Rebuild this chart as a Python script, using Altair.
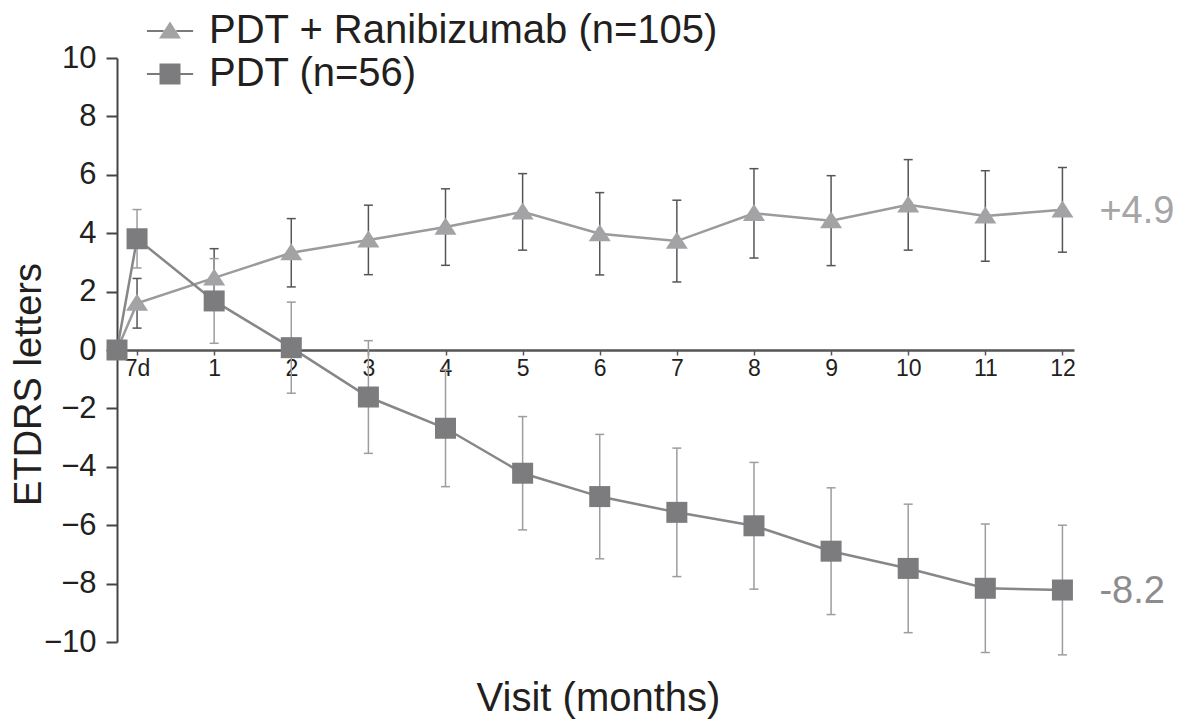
import altair as alt
import pandas as pd

FONT = "Liberation Sans"
TEXT = "#231f20"

# ---- data ----
series_names = ["PDT + Ranibizumab (n=105)", "PDT (n=56)"]
visits = [-0.26, 0, 1, 2, 3, 4, 5, 6, 7, 8, 9, 10, 11, 12]
tick_values = [0, 1, 2, 3, 4, 5, 6, 7, 8, 9, 10, 11, 12]
tick_labels = ["7d", "1", "2", "3", "4", "5", "6", "7", "8", "9", "10", "11", "12"]
y_ticks = [-10, -8, -6, -4, -2, 0, 2, 4, 6, 8, 10]

combo_mean = [0, 1.60, 2.47, 3.33, 3.77, 4.21, 4.73, 3.98, 3.73, 4.68, 4.43, 4.97, 4.59, 4.80]
combo_err = [0, 0.85, 1.00, 1.17, 1.19, 1.31, 1.31, 1.41, 1.40, 1.53, 1.54, 1.55, 1.55, 1.45]
pdt_mean = [0, 3.81, 1.68, 0.08, -1.61, -2.68, -4.22, -5.02, -5.56, -6.02, -6.89, -7.48, -8.16, -8.22]
pdt_err = [0, 1.00, 1.45, 1.56, 1.93, 2.00, 1.94, 2.13, 2.20, 2.17, 2.17, 2.20, 2.20, 2.22]

end_labels = ["+4.9", "-8.2"]
end_values = [4.80, -8.22]
end_visit = [12, 12]

# marker legend keys differ from the line legend keys only by a trailing space,
# so that Vega-Lite keeps the two legends apart (they are overlaid)
marker_keys = [s + " " for s in series_names]

rows = []
for name, key, means, errs in [(series_names[0], marker_keys[0], combo_mean, combo_err),
                               (series_names[1], marker_keys[1], pdt_mean, pdt_err)]:
    for v, m, e in zip(visits, means, errs):
        rows.append({"visit": v, "mean": m, "err": e, "lo": m - e, "hi": m + e,
                     "series": name, "grp": key})
df = pd.DataFrame(rows)
ends = pd.DataFrame({"visit": end_visit, "mean": end_values, "label": end_labels})

label_expr = "[" + ",".join("'%s'" % t for t in tick_labels) + "][datum.value]"

W, H = 957, 584

x_enc = alt.X(
    "visit:Q",
    scale=alt.Scale(domain=[-0.26, 12.15], nice=False, zero=False),
    axis=alt.Axis(
        values=tick_values, labelExpr=label_expr, offset=-H / 2,
        domainColor="#555555", domainWidth=2.5, tickColor="#555555", tickWidth=1.5,
        tickSize=5, labelFontSize=23, labelFont=FONT, labelColor=TEXT, labelPadding=2,
        labelFlush=False, labelOverlap=False, grid=False,
        title="Visit (months)", titleFont=FONT, titleFontSize=40, titleFontWeight="normal",
        titleColor=TEXT, titleX=481, titleY=360, titleBaseline="alphabetic",
        titleAlign="center", titleAnchor="middle",
    ),
)
y_scale = alt.Scale(domain=[-10, 10], nice=False, zero=False)
y_enc = alt.Y(
    "mean:Q", scale=y_scale,
    axis=alt.Axis(
        values=y_ticks, domainColor="#444444", domainWidth=2, tickColor="#444444",
        tickWidth=2, tickSize=11, labelFontSize=31, labelFont=FONT, labelColor=TEXT,
        labelPadding=10, grid=False,
        title="ETDRS letters", titleFont=FONT, titleFontSize=38, titleFontWeight="normal",
        titleColor=TEXT, titleX=-77, titleY=326, titleAngle=270,
        titleBaseline="alphabetic", titleAlign="center",
    ),
)

legend_common = dict(orient="none", legendX=33, legendY=-47, title=None, padding=0,
                     symbolSize=441, labelFontSize=40, labelFont=FONT, labelOffset=19,
                     rowPadding=3, labelLimit=700)

legend_lines = alt.Legend(
    symbolType="M-2.2,0H-0.6M0.6,0H2.2", symbolStrokeWidth=1.3, labelColor=TEXT,
    symbolStrokeColor="#505050", symbolOpacity=1, zindex=0, **legend_common)
legend_points = alt.Legend(labelOpacity=0, labelColor=TEXT, symbolStrokeWidth=0,
                           zindex=1, **legend_common)

tri_path = "M0,-0.9L1.05,0.72L-1.05,0.72Z"
sq_path = "M-1,-1H1V1H-1Z"

base = alt.Chart(df)

line_color = alt.condition(alt.datum.series == series_names[1],
                           alt.value("#87878a"), alt.value("#9b9b9e"))
lines = base.mark_line(strokeWidth=2.5).encode(
    x=x_enc, y=y_enc,
    stroke=line_color,
    detail="series:N",
    opacity=alt.Opacity("series:N", scale=alt.Scale(domain=series_names, range=[1, 1]),
                        legend=legend_lines),
)

err_color = alt.condition(alt.datum.series == series_names[1],
                          alt.value("#9d9d9f"), alt.value("#555555"))
bars = base.transform_filter("datum.err > 0")
rules = bars.mark_rule(strokeWidth=1.5).encode(
    x="visit:Q", y=alt.Y("lo:Q", scale=y_scale), y2="hi:Q", stroke=err_color)
caps_lo = bars.mark_tick(orient="horizontal", size=9, thickness=1.5, opacity=1).encode(
    x="visit:Q", y=alt.Y("lo:Q", scale=y_scale), color=err_color)
caps_hi = bars.mark_tick(orient="horizontal", size=9, thickness=1.5, opacity=1).encode(
    x="visit:Q", y=alt.Y("hi:Q", scale=y_scale), color=err_color)

points = base.transform_filter(
    "datum.series == '%s' || datum.visit > -0.2" % series_names[1]
).mark_point(filled=True, size=441, opacity=1, strokeWidth=0).encode(
    x="visit:Q", y=alt.Y("mean:Q", scale=y_scale),
    shape=alt.Shape("grp:N", scale=alt.Scale(domain=marker_keys, range=[tri_path, sq_path]),
                    legend=legend_points),
    fill=alt.Fill("grp:N", scale=alt.Scale(domain=marker_keys,
                                           range=["#a3a3a6", "#7c7c7f"]),
                  legend=legend_points),
)

texts = alt.Chart(ends).mark_text(align="left", baseline="middle", dx=37, dy=2,
                                  fontSize=38, font=FONT).encode(
    x="visit:Q", y=alt.Y("mean:Q", scale=y_scale), text="label:N",
    color=alt.condition(alt.datum.label == end_labels[0],
                        alt.value("#a5a5a8"), alt.value("#8c8c8f")),
)

chart = alt.layer(lines, rules, caps_lo, caps_hi, points, texts).properties(
    width=W, height=H,
    autosize=alt.AutoSizeParams(type="none"),
    padding={"left": 109, "top": 50, "right": 102, "bottom": 77},
).configure(font=FONT).configure_view(strokeWidth=0, stroke="transparent")

chart.save("out.html", embed_options={"renderer": "svg", "actions": False})
